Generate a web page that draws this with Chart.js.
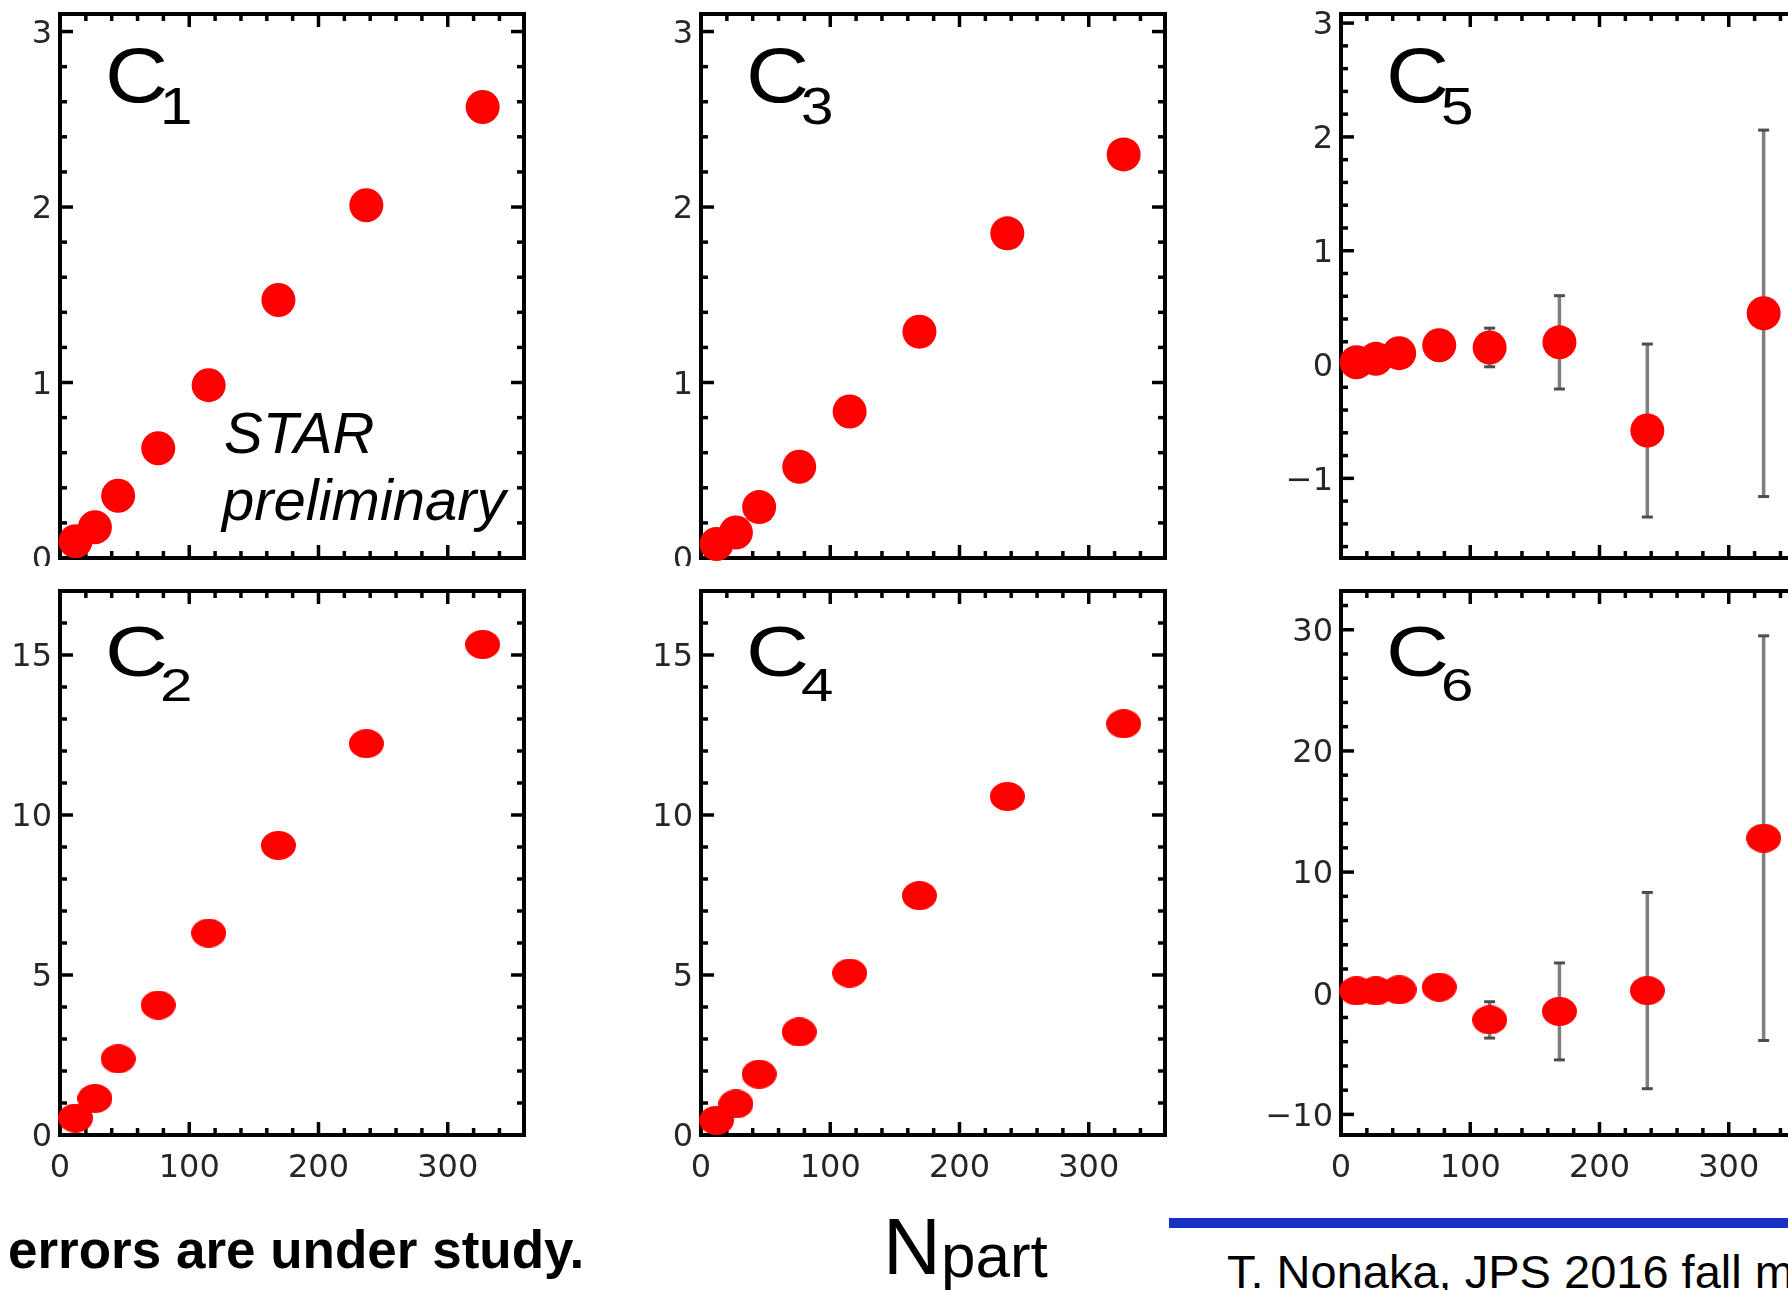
<!DOCTYPE html>
<html>
<head>
<meta charset="utf-8">
<script src="https://cdn.jsdelivr.net/npm/chart.js@4.4.1/dist/chart.umd.min.js"></script>
<style>
  html, body { margin:0; padding:0; background:#fff; width:1788px; height:1290px; overflow:hidden; position:relative; }
  .wrap { position:absolute; left:0; width:1788px; overflow:hidden; }
  .wrap canvas { position:absolute; }
  .t { position:absolute; white-space:nowrap; line-height:1; color:#000; font-family:"Liberation Sans", Arial, Helvetica, sans-serif; }
</style>
</head>
<body>
<div id="topRow" class="wrap" style="top:0;height:566px;"></div>
<div id="botRow" class="wrap" style="top:566px;height:724px;"></div>
<script>
// ---------------- data ----------------
const NPART = [12, 27, 45, 76, 115, 169, 237, 327];

const C1_VALUES = [0.095, 0.175, 0.355, 0.625, 0.985, 1.47, 2.01, 2.57];
const C2_VALUES = [0.53, 1.14, 2.38, 4.06, 6.31, 9.05, 12.23, 15.33];
const C3_VALUES = [0.08, 0.145, 0.29, 0.52, 0.835, 1.29, 1.85, 2.30];
const C4_VALUES = [0.46, 0.97, 1.9, 3.22, 5.06, 7.48, 10.58, 12.85];
const C5_VALUES = [0.02, 0.05, 0.10, 0.17, 0.15, 0.195, -0.58, 0.45];
const C5_ERRORS = [null, null, null, null, 0.17, 0.41, 0.76, 1.61];
const C6_VALUES = [0.2, 0.2, 0.28, 0.5, -2.2, -1.5, 0.22, 12.8];
const C6_ERRORS = [null, null, null, null, 1.5, 4.0, 8.1, 16.7];

const X_RANGE = [0, 359];
const X_TICKS = [0, 100, 200, 300];
const Y_RANGE_C1 = [0, 3.1];
const Y_RANGE_C2 = [0, 17];
const Y_RANGE_C3 = [0, 3.1];
const Y_RANGE_C4 = [0, 17];
const Y_RANGE_C5 = [-1.7, 3.08];
const Y_RANGE_C6 = [-11.7, 33.2];
const Y_TICKS_C1 = [0, 1, 2, 3];
const Y_TICKS_C2 = [0, 5, 10, 15];
const Y_TICKS_C3 = [0, 1, 2, 3];
const Y_TICKS_C4 = [0, 5, 10, 15];
const Y_TICKS_C5 = [-1, 0, 1, 2, 3];
const Y_TICKS_C6 = [-10, 0, 10, 20, 30];

// ---------------- layout / style ----------------
const ROW_TOPS = [14, 591];
const COL_LEFTS = [60, 701, 1341];
const PANEL_W = 467, PANEL_H = 544;
const YW = 80, PADT = 30, PADR = 14;
const XH = [30, 70];
const WRAP_TOP = [0, 566];
const RED = '#ff0000';
const TICK_FONT = { family: '"DejaVu Sans", "Liberation Sans", Arial, sans-serif', size: 32 };
const TICK_COLOR = '#262626';

const PANELS = [
  { sub:'1', values:C1_VALUES, errors:null,      yRange:Y_RANGE_C1, yTicks:Y_TICKS_C1, minor:0.2, major:1,  row:0, col:0 },
  { sub:'2', values:C2_VALUES, errors:null,      yRange:Y_RANGE_C2, yTicks:Y_TICKS_C2, minor:1,   major:5,  row:1, col:0 },
  { sub:'3', values:C3_VALUES, errors:null,      yRange:Y_RANGE_C3, yTicks:Y_TICKS_C3, minor:0.2, major:1,  row:0, col:1 },
  { sub:'4', values:C4_VALUES, errors:null,      yRange:Y_RANGE_C4, yTicks:Y_TICKS_C4, minor:1,   major:5,  row:1, col:1 },
  { sub:'5', values:C5_VALUES, errors:C5_ERRORS, yRange:Y_RANGE_C5, yTicks:Y_TICKS_C5, minor:0.2, major:1,  row:0, col:2 },
  { sub:'6', values:C6_VALUES, errors:C6_ERRORS, yRange:Y_RANGE_C6, yTicks:Y_TICKS_C6, minor:2,   major:10, row:1, col:2 }
];

function ellipseMarker(w, h) {
  const c = document.createElement('canvas');
  c.width = w; c.height = h;
  const g = c.getContext('2d');
  g.fillStyle = RED;
  g.beginPath();
  g.ellipse(w / 2, h / 2, w / 2, h / 2, 0, 0, Math.PI * 2);
  g.fill();
  return c;
}
const BOTTOM_MARKER = ellipseMarker(35, 29);

function fmt(v) { return v < 0 ? '\u2212' + Math.abs(v) : String(v); }

const framePlugin = {
  id: 'frame',
  beforeDatasetsDraw(chart) {
    const o = chart.options.plugins.frame;
    const ctx = chart.ctx, a = chart.chartArea, xs = chart.scales.x, ys = chart.scales.y;
    ctx.save();
    // frame
    ctx.strokeStyle = '#000';
    ctx.lineWidth = 4;
    ctx.strokeRect(a.left, a.top, a.right - a.left, a.bottom - a.top);
    // ticks (inward, all four sides)
    ctx.lineWidth = 3.5;
    ctx.lineCap = 'butt';
    const seg = (x1, y1, x2, y2) => { ctx.beginPath(); ctx.moveTo(x1, y1); ctx.lineTo(x2, y2); ctx.stroke(); };
    for (let k = 0; k * 20 <= xs.max + 1e-9; k++) {
      const v = k * 20;
      const px = xs.getPixelForValue(v);
      const L = (v % 100 === 0) ? 13 : 7;
      seg(px, a.bottom, px, a.bottom - L);
      seg(px, a.top, px, a.top + L);
    }
    const k0 = Math.ceil(ys.min / o.minor - 1e-9), k1 = Math.floor(ys.max / o.minor + 1e-9);
    for (let k = k0; k <= k1; k++) {
      const v = k * o.minor;
      const r = v / o.major;
      const isMajor = Math.abs(r - Math.round(r)) < 1e-6;
      const py = ys.getPixelForValue(v);
      const L = isMajor ? 13 : 7;
      seg(a.left, py, a.left + L, py);
      seg(a.right, py, a.right - L, py);
    }
    // error bars
    if (o.errors) {
      const pts = chart.data.datasets[0].data;
      pts.forEach((p, i) => {
        const e = o.errors[i];
        if (e == null) return;
        const px = xs.getPixelForValue(p.x);
        const y1 = ys.getPixelForValue(p.y + e), y2 = ys.getPixelForValue(p.y - e);
        ctx.strokeStyle = '#7f7f7f';
        ctx.lineWidth = 3.5;
        seg(px, y1, px, y2);
        ctx.strokeStyle = '#4d4d4d';
        ctx.lineWidth = 3;
        seg(px - 5.5, y1, px + 5.5, y1);
        seg(px - 5.5, y2, px + 5.5, y2);
      });
    }
    ctx.restore();
  }
};

function addText(txt, left, baseline, size, o) {
  o = o || {};
  const d = document.createElement('div');
  d.className = 't';
  d.textContent = txt;
  d.style.left = left + 'px';
  d.style.top = (baseline - 0.8465 * size) + 'px';
  d.style.fontSize = size + 'px';
  if (o.bold) d.style.fontWeight = 'bold';
  if (o.italic) d.style.fontStyle = 'italic';
  if (o.scaleX || o.scaleY) {
    d.style.transformOrigin = '0 ' + (0.8465 * size) + 'px';
    d.style.transform = 'scale(' + (o.scaleX || 1) + ',' + (o.scaleY || 1) + ')';
  }
  document.body.appendChild(d);
  return d;
}

PANELS.forEach(P => {
  const wrap = document.getElementById(P.row === 0 ? 'topRow' : 'botRow');
  const panelLeft = COL_LEFTS[P.col], panelTop = ROW_TOPS[P.row];
  const cv = document.createElement('canvas');
  const W = YW + PANEL_W + PADR, H = PADT + PANEL_H + XH[P.row];
  cv.width = W; cv.height = H;
  cv.style.width = W + 'px'; cv.style.height = H + 'px';
  cv.style.left = (panelLeft - YW) + 'px';
  cv.style.top = (panelTop - PADT - WRAP_TOP[P.row]) + 'px';
  wrap.appendChild(cv);

  const data = NPART.map((x, i) => ({ x: x, y: P.values[i] }));
  new Chart(cv.getContext('2d'), {
    type: 'scatter',
    data: { datasets: [{
      data: data,
      clip: false,
      pointStyle: P.row === 0 ? 'circle' : BOTTOM_MARKER,
      pointRadius: 17,
      pointHoverRadius: 17,
      backgroundColor: RED,
      borderColor: RED,
      borderWidth: 0
    }]},
    options: {
      responsive: false, animation: false, devicePixelRatio: 1,
      events: [],
      layout: { padding: { left: 0, top: PADT, right: PADR, bottom: 0 } },
      plugins: {
        legend: { display: false }, tooltip: { enabled: false },
        frame: { errors: P.errors, minor: P.minor, major: P.major }
      },
      scales: {
        x: {
          type: 'linear', min: X_RANGE[0], max: X_RANGE[1],
          grid: { display: false, drawTicks: false }, border: { display: false },
          ticks: { display: P.row === 1, font: TICK_FONT, color: TICK_COLOR, padding: 14, maxRotation: 0, autoSkip: false, callback: v => fmt(v) },
          afterBuildTicks: s => { s.ticks = X_TICKS.map(v => ({ value: v })); },
          afterFit: s => { s.height = XH[P.row]; }
        },
        y: {
          type: 'linear', min: P.yRange[0], max: P.yRange[1],
          grid: { display: false, drawTicks: false }, border: { display: false },
          ticks: { font: TICK_FONT, color: TICK_COLOR, padding: 8, labelOffset: 3, autoSkip: false, callback: v => fmt(v) },
          afterBuildTicks: s => { s.ticks = P.yTicks.map(v => ({ value: v })); },
          afterFit: s => { s.width = YW; }
        }
      }
    },
    plugins: [framePlugin]
  });

  // panel label  C_n
  const sy = P.row === 0 ? 1 : 0.9;
  addText('C', panelLeft + 45, panelTop + (P.row === 0 ? 88 : 85), 78, { scaleX: 1.12, scaleY: sy });
  addText(P.sub, panelLeft + 100, panelTop + 110, 52, { scaleX: 1.12, scaleY: sy });
});

addText('STAR', 224, 453, 58, { italic: true });
addText('preliminary', 222, 520, 58, { italic: true });
addText('errors are under study.', 8, 1268, 53, { bold: true });
addText('N', 883, 1275, 80);
addText('part', 941, 1277, 62);
addText('T. Nonaka, JPS 2016 fall m', 1227, 1288, 47);

const bar = document.createElement('div');
bar.style.cssText = 'position:absolute;left:1169px;top:1218px;width:619px;height:10px;background:#1632c4;';
document.body.appendChild(bar);
</script>
</body>
</html>
